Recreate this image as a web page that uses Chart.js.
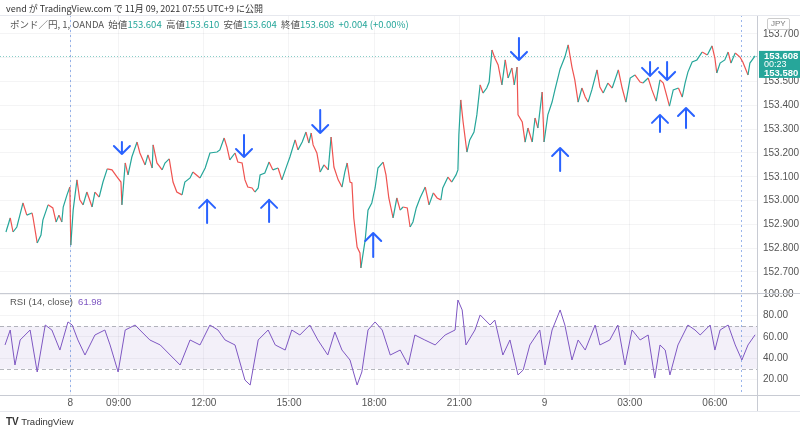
<!DOCTYPE html>
<html><head><meta charset="utf-8">
<script src="https://cdn.jsdelivr.net/npm/chart.js@4/dist/chart.umd.min.js"></script>
<style>
html,body{margin:0;padding:0;background:#fff;}
#wrap{position:relative;width:800px;height:433px;overflow:hidden;font-family:"Noto Sans CJK JP","Noto Sans",sans-serif;}
#c{position:absolute;left:0;top:0;}
.t{position:absolute;white-space:nowrap;line-height:1;}
.g{color:#26a69a;}
</style></head><body>
<div id="wrap">
<canvas id="c" width="800" height="433"></canvas>
<div class="t" style="left:6px;top:4px;font-size:9px;color:#333">vend が TradingView.com で 11月 09, 2021 07:55 UTC+9 に公開</div>
<div class="t" style="left:10px;top:20px;font-size:9.5px;color:#555">ポンド／円, 1, OANDA&nbsp;&nbsp;始値<span class="g">153.604</span>&nbsp;&nbsp;高値<span class="g">153.610</span>&nbsp;&nbsp;安値<span class="g">153.604</span>&nbsp;&nbsp;終値<span class="g">153.608</span>&nbsp;&nbsp;<span class="g">+0.004 (+0.00%)</span></div>
<div class="t" style="left:767px;top:18px;font-size:8px;color:#777;border:1px solid #ccc;border-radius:2px;padding:1px 3px;font-family:'Liberation Sans',sans-serif">JPY</div>
<div class="t" style="left:10px;top:297px;font-size:9.5px;color:#555;font-family:'Liberation Sans',sans-serif">RSI (14, close)&nbsp;&nbsp;<span style="color:#7e57c2">61.98</span></div>
<div class="t" style="left:6px;top:417px;font-size:9.5px;color:#333;font-family:'Liberation Sans',sans-serif"><b style="font-size:10px">TV</b> TradingView</div>
</div>
<script>
// ---- data (x = 1-minute bar index, compressed across the weekend gap) ----
const priceIdx = [2,11,17,25,38,46,57,59,68,76,80,91,101,108,114,120,123,131,137,139,144,152,158,165,173,184,190,199,207,216,226,237,245,247,254,260,268,279,285,296,302,311,313,321,332,338,347,355,363,374,380,391,397,412,423,433,448,454,463,469,475,486,492,501,507,513,522,528,535,539,549,558,566,577,585,596,602,613,619,628,636,642,647,651,659,666,674,683,689,695,704,712,718,723,729,733,737,744,750,752,761,767,775,782,788,799,805,811,820,828,835,841,850,856,862,869,877,888,896,905,913,921,925,936,944,953,957,959,963,968,976,982,991,997,1004,1010,1018,1023,1029,1035,1042,1050,1057,1063,1071,1076,1082,1084,1093,1099,1105,1114,1120,1126,1135,1139,1147,1156,1162,1173,1183,1190,1198,1204,1211,1219,1226,1232,1240,1251,1257,1264,1274,1283,1296,1304,1312,1321,1331,1342,1348,1359,1367,1376,1384,1391,1399,1404,1412,1423,1431,1437,1443,1452,1462,1473,1484,1494,1500,1504,1511,1521,1528,1534,1543,1553,1559,1570,1574,1585];
const priceVal = [152.868,152.927,152.868,152.889,152.990,152.939,152.948,152.931,152.822,152.855,152.918,152.982,152.969,152.910,152.939,152.910,152.973,153.024,153.057,152.813,152.960,153.087,153.003,152.982,153.036,152.973,153.036,153.015,153.078,153.133,153.129,153.099,153.078,152.982,153.158,153.108,153.183,153.246,153.200,153.150,153.192,153.137,153.234,153.158,153.129,153.158,153.175,153.078,153.036,153.024,153.078,153.095,153.120,153.095,153.137,153.200,153.204,153.213,153.263,153.225,153.171,153.200,153.162,153.158,153.087,153.057,153.053,153.036,153.053,153.108,153.116,153.162,153.129,153.137,153.087,153.150,153.183,153.255,153.213,153.246,153.288,153.242,153.284,153.234,153.200,153.120,153.150,153.129,153.267,153.141,153.087,153.057,153.120,153.158,153.078,153.074,152.927,152.805,152.780,152.717,152.834,152.960,152.990,153.053,153.137,153.162,153.108,153.011,152.927,153.011,152.960,152.973,152.969,152.889,152.910,152.969,153.011,153.057,152.982,153.032,153.011,153.003,153.053,153.099,153.078,153.108,153.129,153.276,153.423,153.330,153.204,153.255,153.288,153.360,153.486,153.452,153.473,153.498,153.633,153.599,153.570,153.486,153.591,153.515,153.557,153.486,153.561,153.360,153.330,153.246,153.305,153.246,153.347,153.305,153.456,153.246,153.360,153.414,153.465,153.553,153.603,153.654,153.561,153.507,153.414,153.473,153.435,153.414,153.465,153.549,153.477,153.452,153.494,153.473,153.549,153.473,153.414,153.515,153.528,153.498,153.494,153.515,153.465,153.418,153.507,153.494,153.435,153.397,153.465,153.473,153.435,153.494,153.540,153.582,153.591,153.624,153.612,153.650,153.599,153.536,153.578,153.591,153.624,153.578,153.620,153.603,153.582,153.528,153.578,153.608];

const rsiIdx = [0,11,21,32,53,68,85,99,116,133,142,154,169,190,211,222,239,254,275,285,306,328,349,370,391,412,433,450,465,486,507,518,535,556,571,592,606,623,644,661,682,697,712,729,744,754,767,782,797,814,835,852,866,887,909,930,951,957,966,974,993,1004,1025,1035,1052,1067,1084,1095,1109,1130,1141,1156,1173,1183,1198,1211,1226,1247,1257,1278,1295,1310,1325,1342,1359,1373,1384,1395,1405,1422,1443,1458,1469,1490,1500,1511,1528,1543,1557,1570,1585];
const rsiVal = [52.4,66.5,33.5,57.1,66.5,26.9,71.2,66.5,47.6,74.1,71.2,57.1,42.9,61.8,66.5,52.4,26.9,66.5,71.2,66.5,57.1,52.4,42.9,33.5,57.1,52.4,71.2,66.5,57.1,52.4,19.3,14.6,57.1,66.5,52.4,47.6,66.5,61.8,71.2,57.1,42.9,64.6,47.6,38.2,14.6,26.9,66.5,74.1,66.5,42.9,47.6,33.5,61.8,57.1,52.4,61.8,66.5,94.8,85.4,52.4,66.5,80.7,71.2,75.9,42.9,57.1,24.1,28.8,52.4,66.5,33.5,66.5,85.4,71.2,38.2,57.1,47.6,71.2,52.4,57.1,71.2,33.5,66.5,57.1,61.8,21.2,52.4,47.6,24.1,52.4,71.2,66.5,61.8,71.2,47.6,66.5,71.2,52.4,38.2,52.4,61.98];

const timeTickIdx = [138,240,420,600,780,960,1140,1320,1500];
const timeTickLabels = ['8','09:00','12:00','15:00','18:00','21:00','9','03:00','06:00'];
const priceTicks = [152.7,152.8,152.9,153.0,153.1,153.2,153.3,153.4,153.5,153.6,153.7];
const rsiTicks = [20,40,60,80,100];
const rsiBand = [30,70];
const lastPrice = 153.608;
const sessionBreakIdx = [138];
const crosshairIdx = 1555;

// arrows: [bar index, tail price, tip price]
const downArrowIdx = [247,505,666,1086,1363,1399];
const downArrowTail = [153.246,153.276,153.381,153.683,153.582,153.582];
const downArrowTip  = [153.196,153.183,153.284,153.591,153.524,153.507];
const upArrowIdx = [427,558,778,1173,1384,1439];
const upArrowTail = [152.906,152.910,152.763,153.124,153.288,153.305];
const upArrowTip  = [153.003,153.003,152.864,153.221,153.360,153.389];

const UP='#26a69a', DOWN='#ef5350';
const FONT = "'Liberation Sans', sans-serif";

const overlay = {
  id:'overlay',
  beforeDatasetsDraw(chart){
    const ctx=chart.ctx, a=chart.chartArea, x=chart.scales.x, y=chart.scales.y, r=chart.scales.y2;
    ctx.save();
    const bt=r.getPixelForValue(rsiBand[1]), bb=r.getPixelForValue(rsiBand[0]);
    ctx.fillStyle='rgba(126,87,194,0.09)';
    ctx.fillRect(a.left,bt,a.right-a.left,bb-bt);
    ctx.strokeStyle='rgba(120,123,134,0.55)'; ctx.lineWidth=1; ctx.setLineDash([4,3]);
    [bt,bb].forEach(p=>{ctx.beginPath();ctx.moveTo(a.left,Math.round(p)+0.5);ctx.lineTo(a.right,Math.round(p)+0.5);ctx.stroke();});
    ctx.setLineDash([1,2]); ctx.strokeStyle='rgba(38,166,154,0.55)';
    const lp=Math.round(y.getPixelForValue(lastPrice))+0.5;
    ctx.beginPath();ctx.moveTo(a.left,lp);ctx.lineTo(a.right,lp);ctx.stroke();
    ctx.strokeStyle='rgba(70,120,220,0.55)'; ctx.setLineDash([2,3]);
    sessionBreakIdx.concat([crosshairIdx]).forEach(v=>{
      const px=Math.round(x.getPixelForValue(v))+0.5;
      ctx.beginPath();ctx.moveTo(px,a.top);ctx.lineTo(px,a.bottom);ctx.stroke();
    });
    ctx.restore();
  },
  afterDatasetsDraw(chart){
    const ctx=chart.ctx, x=chart.scales.x, y=chart.scales.y;
    ctx.save();
    ctx.strokeStyle='#2962ff'; ctx.lineWidth=2; ctx.lineCap='round'; ctx.lineJoin='round';
    const h=8;
    downArrowIdx.forEach((v,i)=>{
      const px=x.getPixelForValue(v), t=y.getPixelForValue(downArrowTail[i]), p=y.getPixelForValue(downArrowTip[i]);
      ctx.beginPath();ctx.moveTo(px,t);ctx.lineTo(px,p);
      ctx.moveTo(px-h,p-h);ctx.lineTo(px,p);ctx.lineTo(px+h,p-h);ctx.stroke();
    });
    upArrowIdx.forEach((v,i)=>{
      const px=x.getPixelForValue(v), t=y.getPixelForValue(upArrowTail[i]), p=y.getPixelForValue(upArrowTip[i]);
      ctx.beginPath();ctx.moveTo(px,t);ctx.lineTo(px,p);
      ctx.moveTo(px-h,p+h);ctx.lineTo(px,p);ctx.lineTo(px+h,p+h);ctx.stroke();
    });
    ctx.restore();
  },
  afterDraw(chart){
    const ctx=chart.ctx, a=chart.chartArea, y=chart.scales.y, r=chart.scales.y2, x=chart.scales.x;
    ctx.save();
    ctx.strokeStyle='#c8cbd3'; ctx.lineWidth=1; ctx.setLineDash([]);
    const sep=Math.round(r.top)+0.5, bot=Math.round(a.bottom)+0.5, top=Math.round(a.top)+0.5;
    ctx.beginPath();
    ctx.moveTo(0,sep);ctx.lineTo(800,sep);
    ctx.moveTo(0,bot);ctx.lineTo(800,bot);
    ctx.moveTo(Math.round(a.right)+0.5,top);ctx.lineTo(Math.round(a.right)+0.5,x.bottom);
    ctx.stroke();
    ctx.strokeStyle='#e6e8ee';
    ctx.beginPath();ctx.moveTo(0,top);ctx.lineTo(800,top);
    ctx.moveTo(0,Math.round(x.bottom)+0.5);ctx.lineTo(800,Math.round(x.bottom)+0.5);ctx.stroke();
    const lp=y.getPixelForValue(lastPrice);
    const bx=a.right+2, by=lp-5, bw=800-bx, bh=27;
    ctx.fillStyle=UP; ctx.fillRect(bx,by,bw,bh);
    ctx.fillStyle='#fff'; ctx.font='bold 9.5px '+FONT; ctx.textBaseline='middle'; ctx.textAlign='left';
    ctx.fillText(lastPrice.toFixed(3),bx+5,by+5);
    ctx.font='9px '+FONT; ctx.fillText('00:23',bx+5,by+13.5);
    ctx.font='bold 9.5px '+FONT; ctx.fillText('153.580',bx+5,by+22);
    ctx.restore();
  }
};

const chart = new Chart(document.getElementById('c'), {
  type:'line',
  data:{datasets:[
    {data:priceIdx.map((v,i)=>({x:v,y:priceVal[i]})), yAxisID:'y', borderWidth:1.2, pointRadius:0, tension:0,
     borderColor:UP, segment:{borderColor:c=>c.p1.parsed.y>=c.p0.parsed.y?UP:DOWN}},
    {data:rsiIdx.map((v,i)=>({x:v,y:rsiVal[i]})), yAxisID:'y2', borderWidth:1, pointRadius:0, tension:0, borderColor:'#7e57c2'}
  ]},
  options:{
    responsive:false, animation:false, devicePixelRatio:1,
    layout:{padding:{top:15,bottom:22,left:0,right:0}},
    plugins:{legend:{display:false},tooltip:{enabled:false}},
    scales:{
      x:{type:'linear',min:-10.6,max:1589,position:'bottom',
        afterBuildTicks:s=>{s.ticks=timeTickIdx.map(v=>({value:v}));},
        afterFit:s=>{s.height=16;},
        ticks:{autoSkip:false,maxRotation:0,padding:2,color:'#555',font:{family:FONT,size:10},
          callback:(v,i)=>timeTickLabels[i]},
        grid:{color:'rgba(42,46,57,0.05)',drawTicks:false},border:{display:false}},
      y:{type:'linear',position:'right',stack:'panes',stackWeight:278,min:152.6117,max:153.7798,
        afterBuildTicks:s=>{s.ticks=priceTicks.map(v=>({value:v}));},
        afterFit:s=>{s.width=43;},
        ticks:{autoSkip:false,padding:6,color:'#555',font:{family:FONT,size:10},callback:v=>Number(v).toFixed(3)},
        grid:{color:'rgba(42,46,57,0.05)',drawTicks:false},border:{display:false}},
      y2:{type:'linear',position:'right',stack:'panes',stackWeight:102,min:5.2,max:101.4,
        afterBuildTicks:s=>{s.ticks=rsiTicks.map(v=>({value:v}));},
        afterFit:s=>{s.width=43;},
        ticks:{autoSkip:false,padding:6,color:'#555',font:{family:FONT,size:10},callback:v=>Number(v).toFixed(2)},
        grid:{color:'rgba(42,46,57,0.05)',drawTicks:false},border:{display:false}}
    }
  },
  plugins:[overlay]
});
</script>
</body></html>
